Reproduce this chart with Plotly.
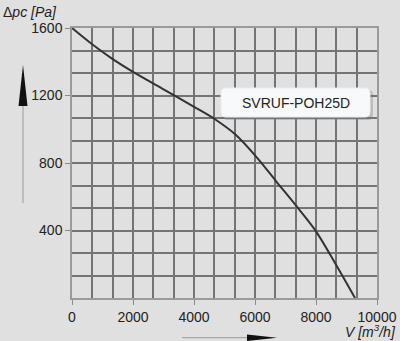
import plotly.graph_objects as go

# Data
flow = [0, 650, 1300, 2000, 3000, 4000, 4700, 5350, 6050, 6700, 7400, 8000, 8600, 9280]
pressure = [1600, 1505, 1420, 1340, 1237, 1133, 1058, 970, 835, 690, 535, 395, 215, 0]
x_ticks = [0, 2000, 4000, 6000, 8000, 10000]
y_ticks = [400, 800, 1200, 1600]
model_label = "SVRUF-POH25D"

W, H = 400, 341
ML, MR, MT, MB = 72, 23, 28, 43
PW, PH = W - ML - MR, H - MT - MB


def px(x):
    return (x - ML) / PW


def py(y):
    return (H - MB - y) / PH


BG = "#e0e0e0"
GRID = "#747474"
TXT = "#222222"

fig = go.Figure()
fig.add_trace(go.Scatter(x=flow, y=pressure, mode="lines",
                         line=dict(color="#333333", width=2, shape="spline", smoothing=0.8),
                         hoverinfo="skip", showlegend=False))

axis_common = dict(showline=True, mirror=True, linecolor="#9a9a9a", linewidth=1.5,
                   showgrid=True, gridcolor=GRID, gridwidth=1.5, zeroline=False,
                   automargin=False,
                   ticks="outside", ticklen=5, tickcolor="#8a8a8a", tickwidth=1,
                   tickfont=dict(family="Liberation Sans, Arial", size=14, color=TXT))

fig.update_xaxes(range=[0, 10000], tickmode="array", tickvals=x_ticks,
                 ticktext=[str(v) for v in x_ticks],
                 minor=dict(tick0=0, dtick=10000 / 15, showgrid=True, gridcolor=GRID,
                            gridwidth=1.5, ticks=""),
                 **axis_common)
fig.update_yaxes(range=[0, 1600], tickmode="array", tickvals=y_ticks,
                 ticktext=[str(v) for v in y_ticks],
                 minor=dict(tick0=0, dtick=1600 / 12, showgrid=True, gridcolor=GRID,
                            gridwidth=1.5, ticks=""),
                 **axis_common)

shapes = []


def rrect(x0, y0, x1, y1, r):
    return (f"M {px(x0+r)} {py(y0)} L {px(x1-r)} {py(y0)} "
            f"Q {px(x1)} {py(y0)} {px(x1)} {py(y0+r)} L {px(x1)} {py(y1-r)} "
            f"Q {px(x1)} {py(y1)} {px(x1-r)} {py(y1)} L {px(x0+r)} {py(y1)} "
            f"Q {px(x0)} {py(y1)} {px(x0)} {py(y1-r)} L {px(x0)} {py(y0+r)} "
            f"Q {px(x0)} {py(y0)} {px(x0+r)} {py(y0)} Z")


shapes.append(dict(type="path", xref="paper", yref="paper", path=rrect(223, 90, 373, 120, 5),
                   fillcolor="rgba(120,120,120,0.35)", line=dict(width=0), layer="above"))
shapes.append(dict(type="path", xref="paper", yref="paper", path=rrect(221, 88, 370, 117, 5),
                   fillcolor="#f7f9fb", line=dict(color="#e8eef2", width=1), layer="above"))
# vertical arrow
shapes.append(dict(type="line", xref="paper", yref="paper", x0=px(23), x1=px(23),
                   y0=py(203), y1=py(100), line=dict(color="#9a9a9a", width=1), layer="above"))
shapes.append(dict(type="path", xref="paper", yref="paper",
                   path=f"M {px(23)} {py(65)} L {px(27.5)} {py(106)} L {px(18.5)} {py(106)} Z",
                   fillcolor="#111111", line=dict(width=0), layer="above"))
# horizontal arrow
shapes.append(dict(type="line", xref="paper", yref="paper", x0=px(182), x1=px(255),
                   y0=py(337.7), y1=py(337.7), line=dict(color="#9a9a9a", width=1), layer="above"))
shapes.append(dict(type="path", xref="paper", yref="paper",
                   path=f"M {px(277)} {py(337.7)} L {px(247)} {py(334.5)} L {px(247)} {py(341)} Z",
                   fillcolor="#111111", line=dict(width=0), layer="above"))

annotations = [
    dict(text=model_label, xref="paper", yref="paper", x=px(295.5), y=py(102.5),
         showarrow=False, xanchor="center", yanchor="middle",
         font=dict(family="Liberation Sans, Arial", size=14, color=TXT)),
    dict(text="Δ<i>pc [Pa]</i>", xref="paper", yref="paper", x=px(1), y=py(12),
         showarrow=False, xanchor="left", yanchor="middle",
         font=dict(family="Liberation Sans, Arial", size=14, color=TXT)),
    dict(text="<i>V [m<sup>3</sup>/h]</i>", xref="paper", yref="paper", x=px(398), y=py(331),
         showarrow=False, xanchor="right", yanchor="middle",
         font=dict(family="Liberation Sans, Arial", size=14, color=TXT)),
]

fig.update_layout(width=W, height=H, margin=dict(l=ML, r=MR, t=MT, b=MB, autoexpand=False),
                  paper_bgcolor=BG, plot_bgcolor=BG, shapes=shapes, annotations=annotations,
                  showlegend=False)

fig.write_html("out.html")
